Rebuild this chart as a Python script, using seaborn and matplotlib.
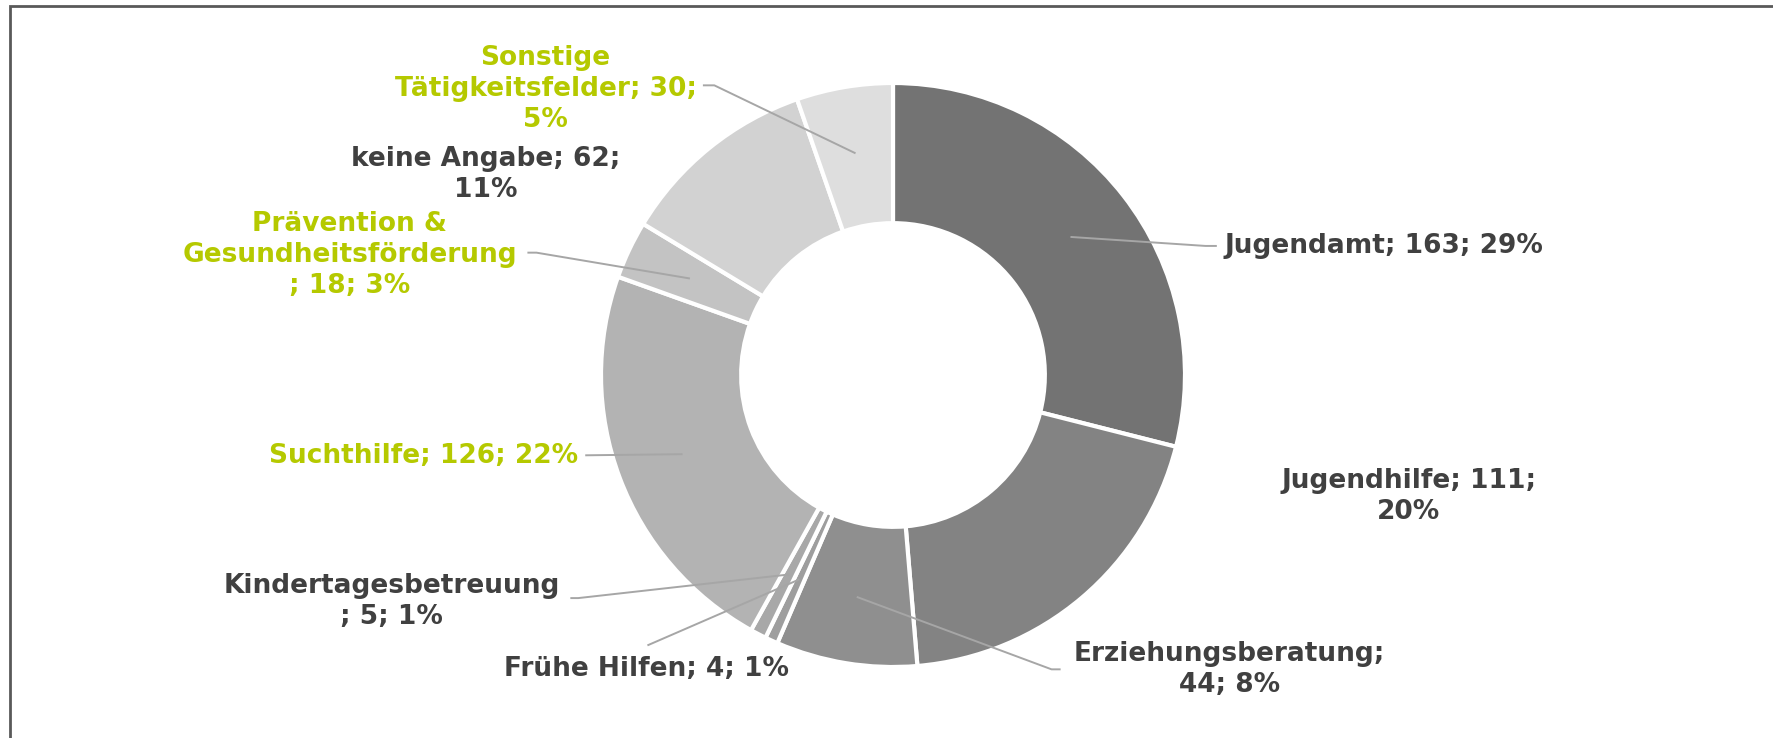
import numpy as np
import matplotlib.pyplot as plt
import seaborn as sns
from matplotlib.patches import Rectangle

# Data (clockwise from 12 o'clock)
names = ["Jugendamt", "Jugendhilfe", "Erziehungsberatung", "Frühe Hilfen",
         "Kindertagesbetreuung", "Suchthilfe", "Prävention &\nGesundheitsförderung",
         "keine Angabe", "Sonstige\nTätigkeitsfelder"]
counts = [163, 111, 44, 4, 5, 126, 18, 62, 30]
# how each label is broken into lines
label_fmt = ["{n}; {c}; {p}%", "{n}; {c};\n{p}%", "{n};\n{c}; {p}%", "{n}; {c}; {p}%",
             "{n}\n; {c}; {p}%", "{n}; {c}; {p}%", "{n}\n; {c}; {p}%",
             "{n}; {c};\n{p}%", "{n}; {c};\n{p}%"]
highlight = [False, False, False, False, False, True, True, False, True]
slice_colors = ["#737373", "#838383", "#8f8f8f", "#9e9e9e", "#a8a8a8",
                "#b3b3b3", "#c3c3c3", "#d2d2d2", "#dedede"]

# label placement (pie radius = 1)
label_pos = [(1.136, 0.442), (1.767, -0.415), (1.151, -1.01), (-0.845, -1.008),
             (-1.717, -0.775), (-1.078, -0.279), (-1.86, 0.41), (-1.395, 0.686),
             (-1.19, 0.98)]
label_ha = ["left", "center", "center", "center", "center", "right", "center",
            "center", "center"]
# leader line start (near label) and stub end; None = no leader
leader_start = [((1.109, 0.442), (1.070, 0.442)), None, ((0.574, -1.008), (0.543, -1.008)),
                ((-0.841, -0.926), (-0.841, -0.926)), ((-1.105, -0.764), (-1.078, -0.764)),
                ((-1.054, -0.275), (-1.054, -0.275)), ((-1.252, 0.419), (-1.221, 0.419)),
                None, ((-0.651, 0.992), (-0.612, 0.992))]

sns.set_theme(style="white")
plt.rcParams['font.family'] = ['DejaVu Sans']

W, H = 1773, 738
fig = plt.figure(figsize=(W / 100, H / 100), dpi=100)
ax = fig.add_axes([0, 0, 1, 1])

cx, cy, R = 893, 375, 292  # pixel centre / radius

ax.pie(counts, colors=sns.color_palette(slice_colors), startangle=90, counterclock=False,
       radius=1, wedgeprops=dict(width=0.48, edgecolor="white", linewidth=3))
ax.set_xlim(-cx / R, (W - cx) / R)
ax.set_ylim(-(H - cy) / R, cy / R)
ax.set_aspect("auto")
ax.axis("off")

total = sum(counts)
cum = np.cumsum(counts)
green = "#b5c900"
dark = "#404040"
for i, (n, c) in enumerate(zip(names, counts)):
    pct = int(round(100 * c / total))
    txt = label_fmt[i].format(n=n, c=c, p=pct)
    x, y = label_pos[i]
    ax.text(x, y, txt, ha=label_ha[i], va="center", multialignment="center",
            fontsize=19, fontweight="bold", linespacing=1.25,
            color=green if highlight[i] else dark)
    if leader_start[i] is not None:
        mid = (cum[i] - c / 2) / total
        ang = np.deg2rad(90 - 360 * mid)
        axp, ayp = 0.77 * np.cos(ang), 0.77 * np.sin(ang)
        (x0, y0), (x1, y1) = leader_start[i]
        ax.plot([x0, x1, axp], [y0, y1, ayp], color="#a6a6a6", lw=1.4,
                solid_capstyle="butt", zorder=3)

# outer frame (only left and top edges visible)
fig.patches.append(Rectangle((10 / W, -0.2), 1.2, 1 - 6 / H + 0.2, transform=fig.transFigure,
                             fill=False, edgecolor="#595959", lw=2))

fig.savefig("out.png", dpi=100)
